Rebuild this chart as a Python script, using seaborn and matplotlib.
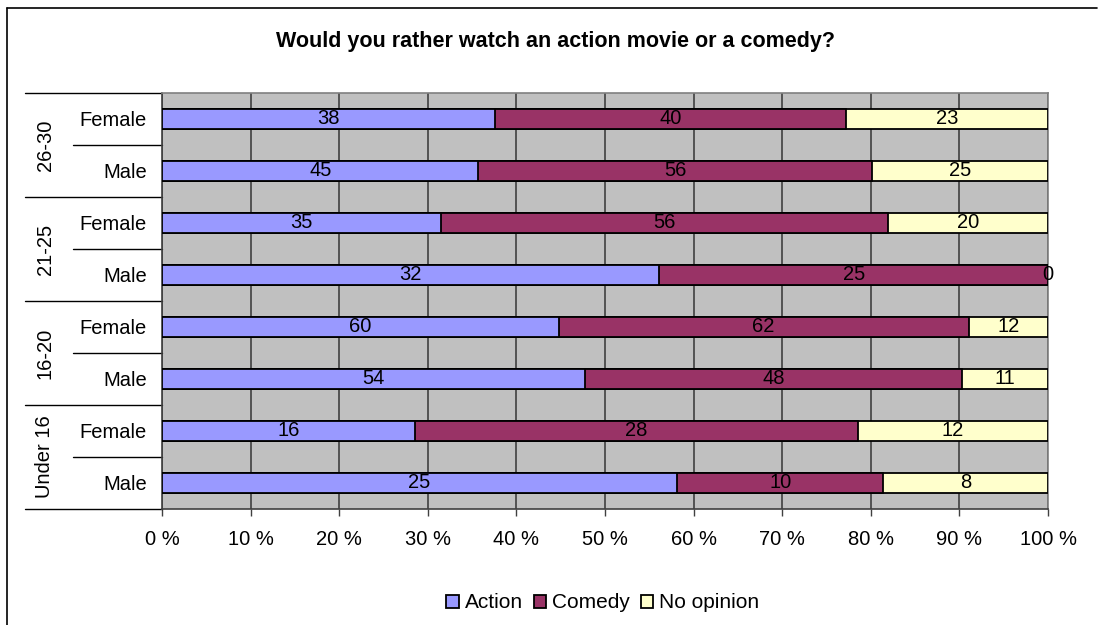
import matplotlib
matplotlib.use("Agg")
import matplotlib.pyplot as plt
import matplotlib.transforms as mtransforms
from matplotlib.lines import Line2D
from matplotlib.patches import Patch
import numpy as np
import pandas as pd
import seaborn as sns

# Survey answers (counts) per age group and gender, top row first
groups = ["26-30", "21-25", "16-20", "Under 16"]
genders = ["Female", "Male"]
action = [38, 45, 35, 32, 60, 54, 16, 25]
comedy = [40, 56, 56, 25, 62, 48, 28, 10]
no_opinion = [23, 25, 20, 0, 12, 11, 12, 8]
series_names = ["Action", "Comedy", "No opinion"]
colors = ["#9999FF", "#993366", "#FFFFCC"]
x_ticks = [0, 10, 20, 30, 40, 50, 60, 70, 80, 90, 100]

rows = [f"{g}|{s}" for g in groups for s in genders]
counts = np.array([action, comedy, no_opinion], dtype=float)
share = counts / counts.sum(axis=0) * 100
cum = np.cumsum(share, axis=0)
df = pd.DataFrame({"row": rows, "a": cum[0], "ac": cum[1], "all": cum[2]})

sns.set_theme(style="white")
plt.rcParams["font.family"] = ["Liberation Sans", "DejaVu Sans"]
plt.rcParams["text.color"] = "black"
plt.rcParams["xtick.color"] = "black"
plt.rcParams["ytick.color"] = "black"
plt.rcParams["xtick.labelcolor"] = "black"
plt.rcParams["ytick.labelcolor"] = "black"

fig = plt.figure(figsize=(10.98, 6.25), dpi=100)
ax = fig.add_axes([162 / 1098, 1 - 509 / 625, 886 / 1098, 416 / 625])
ax.set_facecolor("#C0C0C0")

# 100% stacked bars: draw cumulative totals from the widest down
for col, color in zip(["all", "ac", "a"], colors[::-1]):
    sns.barplot(data=df, x=col, y="row", orient="h", color=color,
                width=0.4, edgecolor="black", linewidth=1.3,
                saturation=1, ax=ax, zorder=3)

# segment value labels
starts = np.vstack([np.zeros(len(rows)), cum[:-1]])
for k in range(3):
    for i in range(len(rows)):
        xc = starts[k, i] + share[k, i] / 2
        ax.text(xc, i, f"{int(counts[k, i])}", ha="center", va="center",
                fontsize=14.5, color="black", zorder=5)

ax.set_xlim(0, 100)
ax.set_ylim(len(rows) - 0.5, -0.5)
ax.set_xticks(x_ticks)
ax.set_xticklabels([f"{t} %" for t in x_ticks], fontsize=14.5)
ax.set_yticks(range(len(rows)))
ax.set_yticklabels([r.split("|")[1] for r in rows], fontsize=14.5)
ax.set_xlabel("")
ax.set_ylabel("")
ax.tick_params(axis="y", length=0, pad=11)
ax.tick_params(axis="x", length=5, width=1, color="#404040", pad=10,
               bottom=True, direction="out")
ax.xaxis.grid(True, color="#404040", linewidth=1.2, zorder=1)
ax.set_axisbelow(True)
for name, sp in ax.spines.items():
    sp.set_visible(True)
    sp.set_color("#808080")
    sp.set_linewidth(1.2)
ax.spines["bottom"].set_color("#404040")
ax.spines["left"].set_color("#404040")

# grouped category axis on the left
trans = mtransforms.blended_transform_factory(fig.transFigure, ax.transData)
x_group = 25 / 1098
x_sub = 73 / 1098
x_axis = 162 / 1098
for b in [-0.5, 1.5, 3.5, 5.5, 7.5]:
    ax.add_line(Line2D([x_group, x_axis], [b, b], transform=trans,
                       color="black", linewidth=1, clip_on=False))
for b in [0.5, 2.5, 4.5, 6.5]:
    ax.add_line(Line2D([x_sub, x_axis], [b, b], transform=trans,
                       color="black", linewidth=1, clip_on=False))
for gi, g in enumerate(groups):
    ax.text(45 / 1098, gi * 2 + 0.5, g, transform=trans, rotation=90,
            ha="center", va="center", fontsize=14.5, color="black")

fig.text(555 / 1098, 1 - 42 / 625,
         "Would you rather watch an action movie or a comedy?",
         ha="center", va="center", fontsize=15.5, fontweight="bold",
         color="black")

handles = [Patch(facecolor=c, edgecolor="black", linewidth=1.3, label=n)
           for c, n in zip(colors, series_names)]
fig.legend(handles=handles, loc="center", bbox_to_anchor=(603 / 1098, 1 - 603 / 625),
           ncol=3, frameon=False, fontsize=15, handlelength=0.6,
           handleheight=0.6, handletextpad=0.3, columnspacing=0.5,
           borderpad=0)

# chart frame
fig.add_artist(Line2D([6.5 / 1098, 6.5 / 1098], [0, 1 - 7.5 / 625],
                      transform=fig.transFigure, color="black", linewidth=1.2))
fig.add_artist(Line2D([6.5 / 1098, 1097 / 1098], [1 - 7.5 / 625, 1 - 7.5 / 625],
                      transform=fig.transFigure, color="black", linewidth=1.2))

fig.savefig("out.png", dpi=100)
